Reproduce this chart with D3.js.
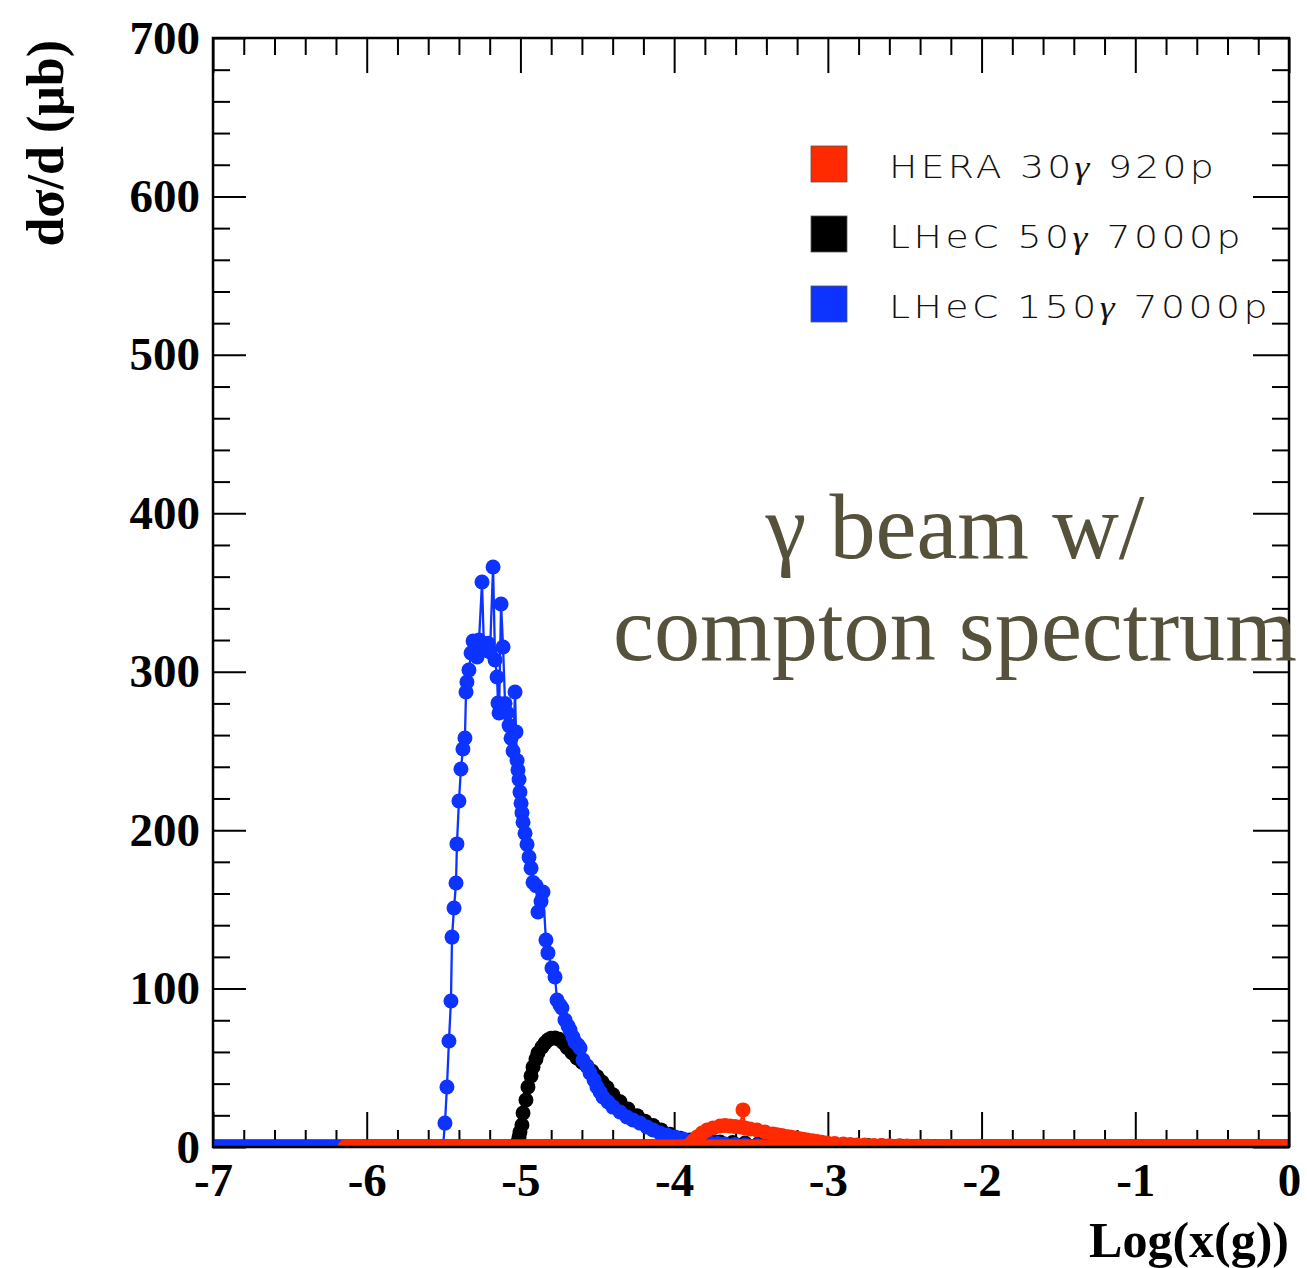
<!DOCTYPE html>
<html>
<head>
<meta charset="utf-8">
<script src="https://cdn.jsdelivr.net/npm/d3@7"></script>
<style>
  html, body { margin: 0; padding: 0; background: #fff; }
  svg { display: block; }
</style>
</head>
<body>
<svg id="chart" width="1307" height="1268"></svg>
<script>
// ---------------- DATA ----------------
const xTicks = [-7, -6, -5, -4, -3, -2, -1, 0];
const yTicks = [0, 100, 200, 300, 400, 500, 600, 700];

const legendLabels = [
  ["HERA 30", "γ", " 920p"],
  ["LHeC 50", "γ", " 7000p"],
  ["LHeC 150", "γ", " 7000p"]
];
const annotationLines = ["γ beam w/", "compton spectrum"];

// LHeC 150γ 7000p  [log10(x), dσ/d]
const blueSeries = [
  [-5.504, 0], [-5.491, 15.1], [-5.478, 37.9], [-5.465, 66.9], [-5.452, 92.2], [-5.445, 132.5],
  [-5.432, 150.9], [-5.419, 166.6], [-5.413, 191.3], [-5.400, 218.4], [-5.387, 238.6],
  [-5.374, 251.2], [-5.361, 258.2], [-5.354, 287.2], [-5.348, 293.5], [-5.335, 301.1],
  [-5.321, 311.8], [-5.308, 319.4], [-5.296, 316.9], [-5.282, 309.3], [-5.269, 320.0],
  [-5.250, 356.6], [-5.237, 313.7], [-5.224, 316.9], [-5.211, 318.0], [-5.198, 312.4],
  [-5.178, 366.1], [-5.165, 307.4], [-5.152, 296.7], [-5.146, 280.2], [-5.139, 273.9],
  [-5.126, 342.7], [-5.113, 315.6], [-5.100, 280.0], [-5.087, 274.0], [-5.074, 266.0],
  [-5.061, 258.0], [-5.048, 250.0], [-5.035, 287.2], [-5.029, 262.0], [-5.022, 244.0],
  [-5.016, 238.0], [-5.009, 232.0], [-5.003, 224.0], [-4.996, 217.0], [-4.990, 211.0],
  [-4.983, 205.0], [-4.970, 198.0], [-4.957, 191.0], [-4.944, 183.0], [-4.931, 176.0],
  [-4.918, 167.0], [-4.899, 165.0], [-4.886, 148.3], [-4.866, 155.0], [-4.853, 161.0],
  [-4.834, 130.7], [-4.821, 122.5], [-4.795, 113.0], [-4.775, 107.3], [-4.762, 92.8],
  [-4.743, 89.6], [-4.730, 87.7], [-4.710, 80.2], [-4.690, 76.4], [-4.677, 73.8],
  [-4.658, 69.4], [-4.645, 66.3], [-4.625, 64.4], [-4.612, 62.5], [-4.593, 54.9],
  [-4.567, 51.1], [-4.547, 46.7], [-4.521, 42.3], [-4.502, 37.9], [-4.482, 34.7],
  [-4.463, 31.6], [-4.430, 28.4], [-4.398, 25.2], [-4.352, 22.1], [-4.307, 18.9],
  [-4.268, 17.0], [-4.222, 15.1], [-4.177, 12.6], [-4.137, 10.7], [-4.092, 8.8],
  [-4.046, 7.6], [-3.994, 6.3], [-3.942, 5.0], [-3.897, 3.8], [-3.832, 3.2],
  [-3.767, 2.5], [-3.718, 2.2], [-3.669, 1.9], [-3.604, 1.6], [-3.539, 1.3],
  [-3.457, 0.9], [-3.376, 0.6], [-3.280, 0.3], [-3.181, 0]
];
const blueZero = [[-7, 0]];

// LHeC 50γ 7000p
const blackSeries = [
  [-5.035, 0], [-5.022, 2.5], [-5.009, 6.3], [-5.003, 9.5], [-4.990, 13.9], [-4.983, 21.5],
  [-4.964, 29.7], [-4.951, 37.9], [-4.931, 44.8], [-4.918, 50.5], [-4.899, 55.5],
  [-4.886, 59.3], [-4.860, 63.1], [-4.840, 65.6], [-4.821, 67.5], [-4.801, 68.6],
  [-4.775, 68.8], [-4.749, 68.0], [-4.723, 66.0], [-4.697, 62.8], [-4.664, 59.5],
  [-4.632, 56.2], [-4.599, 53.5], [-4.567, 51.0], [-4.534, 47.8], [-4.502, 44.5],
  [-4.469, 41.0], [-4.437, 37.5], [-4.398, 33.0], [-4.352, 28.5], [-4.300, 24.0],
  [-4.241, 19.8], [-4.190, 16.3], [-4.137, 13.5], [-4.085, 10.8], [-4.027, 8.0],
  [-3.962, 5.5], [-3.897, 4.4], [-3.848, 4.1], [-3.799, 3.8], [-3.750, 3.5],
  [-3.701, 3.2], [-3.620, 2.8], [-3.539, 2.5], [-3.450, 2.2], [-3.380, 2.0],
  [-3.311, 1.9], [-3.230, 1.7], [-3.150, 1.5], [-3.070, 1.4], [-2.986, 1.3],
  [-2.900, 1.1], [-2.820, 1.0], [-2.740, 0.9], [-2.650, 0.8], [-2.530, 0.6],
  [-2.420, 0.3], [-2.300, 0]
];
const blackZero = [[-7, 0]];

// HERA 30γ 920p
const redSeries = [
  [-3.910, 0], [-3.897, 1.5], [-3.877, 3.8], [-3.851, 6.3], [-3.818, 8.8], [-3.786, 10.7],
  [-3.747, 12.0], [-3.701, 13.3], [-3.669, 13.6], [-3.636, 13.3], [-3.604, 13.0],
  [-3.571, 12.6], [-3.552, 23.4], [-3.539, 12.0], [-3.506, 11.4], [-3.461, 10.7],
  [-3.409, 9.5], [-3.357, 8.2], [-3.330, 7.7], [-3.300, 7.2], [-3.273, 6.7], [-3.246, 6.3],
  [-3.218, 5.8], [-3.190, 5.4], [-3.162, 4.9], [-3.135, 4.4], [-3.100, 4.0], [-3.070, 3.5],
  [-3.040, 3.0], [-3.005, 2.5], [-2.955, 2.2], [-2.900, 1.9], [-2.855, 1.6], [-2.810, 1.3],
  [-2.760, 1.2], [-2.700, 1.0], [-2.650, 0.9], [-2.600, 0.8], [-2.540, 0.7], [-2.485, 0.6],
  [-2.420, 0.5], [-2.350, 0.4], [-2.280, 0.35], [-2.200, 0.3], [-2.100, 0.15], [-2.000, 0]
];
const redZero = [[-6.141, 0]];

const colors = { red: "#ff2a00", black: "#000000", blue: "#0c33ff" };

// ---------------- LAYOUT ----------------
const svg = d3.select("#chart");
const L = 213, R = 1289, T = 38, B = 1147;
const x = d3.scaleLinear().domain([-7, 0]).range([L, R]);
const y = d3.scaleLinear().domain([0, 700]).range([B, T]);

const serif = "'Liberation Serif', 'Times New Roman', serif";
const MR = 7.5;   // marker radius

svg.append("defs").append("clipPath").attr("id", "plotclip")
  .append("rect").attr("x", L).attr("y", T).attr("width", R - L).attr("height", B - T);

// minor tick values
const xMinor = d3.range(-70, 1, 2).map(v => v / 10).filter(v => !xTicks.includes(v));
const yMinor = d3.range(0, 701, 20).filter(v => v % 100 !== 0);

function styleAxis(g) {
  g.select(".domain").remove();
  g.selectAll(".tick line").attr("stroke", "#000").attr("stroke-width", 2);
}
const labelStyle = g => g.selectAll("text").attr("font-family", serif).attr("font-weight", "bold")
  .attr("font-size", 47).attr("fill", "#000");
// bottom
svg.append("g").attr("transform", `translate(0,${B})`)
  .call(d3.axisBottom(x).tickValues(xTicks).tickSize(-35).tickPadding(16).tickFormat(d => String(d)))
  .call(styleAxis).call(labelStyle);
svg.append("g").attr("transform", `translate(0,${B})`)
  .call(d3.axisBottom(x).tickValues(xMinor).tickSize(-17).tickFormat(""))
  .call(styleAxis);
// top
svg.append("g").attr("transform", `translate(0,${T})`)
  .call(d3.axisTop(x).tickValues(xTicks).tickSize(-35).tickFormat(""))
  .call(styleAxis);
svg.append("g").attr("transform", `translate(0,${T})`)
  .call(d3.axisTop(x).tickValues(xMinor).tickSize(-17).tickFormat(""))
  .call(styleAxis);
// left
svg.append("g").attr("transform", `translate(${L},0)`)
  .call(d3.axisLeft(y).tickValues(yTicks).tickSize(-33).tickPadding(13).tickFormat(d => String(d)))
  .call(styleAxis).call(labelStyle);
svg.append("g").attr("transform", `translate(${L},0)`)
  .call(d3.axisLeft(y).tickValues(yMinor).tickSize(-17).tickFormat(""))
  .call(styleAxis);
// right
svg.append("g").attr("transform", `translate(${R},0)`)
  .call(d3.axisRight(y).tickValues(yTicks).tickSize(-36).tickFormat(""))
  .call(styleAxis);
svg.append("g").attr("transform", `translate(${R},0)`)
  .call(d3.axisRight(y).tickValues(yMinor).tickSize(-17).tickFormat(""))
  .call(styleAxis);

// ---------------- SERIES ----------------
const plot = svg.append("g").attr("clip-path", "url(#plotclip)");
const line = d3.line().x(d => x(d[0])).y(d => y(d[1]));

function drawSeries(pts, zeros, color) {
  const g = plot.append("g");
  g.selectAll("line.zero").data(zeros).join("line")
    .attr("class", "zero")
    .attr("x1", d => x(d[0])).attr("x2", d => x(d[1]))
    .attr("y1", y(0)).attr("y2", y(0))
    .attr("stroke", color).attr("stroke-width", 2 * MR).attr("stroke-linecap", "round");
  g.append("path").datum(pts).attr("d", line)
    .attr("fill", "none").attr("stroke", color).attr("stroke-width", 2.3);
  g.selectAll("circle").data(pts).join("circle")
    .attr("cx", d => x(d[0])).attr("cy", d => y(d[1])).attr("r", MR)
    .attr("fill", color);
}
drawSeries(blackSeries, blackZero, colors.black);
drawSeries(blueSeries, blueZero, colors.blue);
drawSeries(redSeries, redZero, colors.red);

// frame
svg.append("rect").attr("x", L).attr("y", T).attr("width", R - L).attr("height", B - T)
  .attr("fill", "none").attr("stroke", "#000").attr("stroke-width", 2.5);

// ---------------- AXIS TITLES ----------------
svg.append("text")
  .attr("transform", `translate(63,40) rotate(-90)`)
  .attr("text-anchor", "end")
  .attr("font-family", serif).attr("font-weight", "bold").attr("font-size", 52)
  .attr("fill", "#000")
  .text("dσ/d (μb)");

svg.append("text")
  .attr("x", 1289).attr("y", 1257)
  .attr("text-anchor", "end")
  .attr("font-family", serif).attr("font-weight", "bold").attr("font-size", 50)
  .attr("fill", "#000")
  .text("Log(x(g))");

// ---------------- LEGEND ----------------
const legendColors = [colors.red, colors.black, colors.blue];
const legendRowsY = [164, 234, 304];
const legendWidths = [328, 355, 382];
const sx = 1.18;
const leg = svg.append("g");
legendLabels.forEach((lab, i) => {
  leg.append("rect")
    .attr("x", 811).attr("y", legendRowsY[i] - 18).attr("width", 36).attr("height", 36)
    .attr("fill", legendColors[i]).attr("stroke", "#555").attr("stroke-width", 0.8);
  const t = leg.append("text")
    .attr("transform", `translate(889,${legendRowsY[i] + 14}) scale(${sx},1)`)
    .attr("x", 0).attr("y", 0)
    .attr("font-family", "'DejaVu Sans', sans-serif").attr("font-weight", 200)
    .attr("font-size", 32).attr("fill", "#111");
  t.append("tspan").text(lab[0]);
  t.append("tspan").attr("font-family", serif).attr("font-style", "italic").text(lab[1]);
  t.append("tspan").text(lab[2]);
  const w = t.node().getComputedTextLength();
  const n = (lab[0] + lab[1] + lab[2]).length;
  t.attr("letter-spacing", Math.max(0, (legendWidths[i] / sx - w) / n));
});

// ---------------- ANNOTATION ----------------
const annColor = "#55513a";
const ann1 = svg.append("text").attr("x", 955).attr("y", 558).attr("text-anchor", "middle")
  .attr("font-family", serif).attr("font-size", 80).attr("fill", annColor).text(annotationLines[0]);
const ann2 = svg.append("text").attr("x", 955).attr("y", 660).attr("text-anchor", "middle")
  .attr("font-family", serif).attr("font-size", 80).attr("fill", annColor).text(annotationLines[1]);
const w2 = ann2.node().getComputedTextLength();
const fs = 80 * 684 / w2;
ann1.attr("font-size", fs);
ann2.attr("font-size", fs);
</script>
</body>
</html>
